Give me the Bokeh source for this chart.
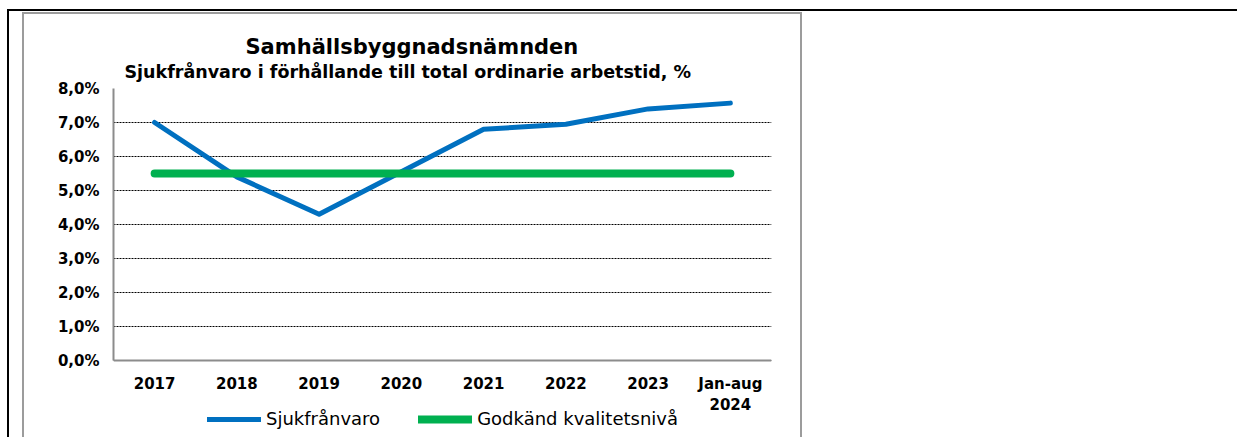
from bokeh.plotting import figure
from bokeh.models import Range1d, FixedTicker, Title, Legend, LegendItem
from bokeh.embed import file_html
from bokeh.resources import INLINE

# ---- data ----
categories = ["2017", "2018", "2019", "2020", "2021", "2022", "2023", "Jan-aug\n2024"]
sjukfranvaro = [7.0, 5.4, 4.3, 5.55, 6.8, 6.95, 7.4, 7.57]
godkand_niva = [5.5, 5.5, 5.5, 5.5, 5.5, 5.5, 5.5, 5.5]
y_ticks = [0, 1, 2, 3, 4, 5, 6, 7, 8]
y_tick_labels = ["0,0%", "1,0%", "2,0%", "3,0%", "4,0%", "5,0%", "6,0%", "7,0%", "8,0%"]
series_names = ["Sjukfrånvaro", "Godkänd kvalitetsnivå"]
title_main = "Samhällsbyggnadsnämnden"
title_sub = "Sjukfrånvaro  i förhållande till total ordinarie arbetstid, %"

FONT = "DejaVu Sans"
PX_PER_UNIT = 34.0          # 272 px frame for 0..8 %
BELOW_PX = 77               # room under the 0-line for labels and legend

p = figure(x_range=categories,
           y_range=Range1d(-BELOW_PX / PX_PER_UNIT, 8),
           frame_width=658, frame_height=272 + BELOW_PX,
           min_border_left=113, min_border_right=466,
           min_border_top=88, min_border_bottom=0,
           output_backend="svg", toolbar_location=None, tools="")
p.outline_line_color = None
p.background_fill_color = "white"
p.border_fill_color = None

# page frames (decoration only)
p.styles = {
    "background-color": "white",
    "background-image": ", ".join(["linear-gradient(#000,#000)"] * 2 +
                                  ["linear-gradient(#9c9c9c,#9c9c9c)"] * 3),
    "background-position": "7px 9px, 7px 9px, 22px 12px, 22px 12px, 800px 12px",
    "background-size": "1230px 2px, 2px 428px, 780px 2px, 2px 425px, 2px 425px",
    "background-repeat": "no-repeat",
}

# grid
p.xgrid.grid_line_color = None
p.ygrid.grid_line_color = "black"
p.ygrid.grid_line_dash = "2 1"
p.ygrid.grid_line_width = 1
p.ygrid.ticker = FixedTicker(ticks=y_ticks)

# axes
p.yaxis.ticker = FixedTicker(ticks=y_ticks)
p.yaxis.major_label_overrides = {t: l for t, l in zip(y_ticks, y_tick_labels)}
p.yaxis.bounds = (0, 8)
p.xaxis.fixed_location = 0
for ax in (p.xaxis[0], p.yaxis[0]):
    ax.axis_line_color = "#8c8c8c"
    ax.axis_line_width = 2
    ax.major_tick_line_color = None
    ax.minor_tick_line_color = None
    ax.major_tick_out = 0
    ax.major_tick_in = 0
    ax.major_label_text_font = FONT
    ax.major_label_text_font_style = "bold"
    ax.major_label_text_font_size = "15px"
    ax.major_label_text_color = "black"
p.yaxis.major_label_standoff = 14
p.xaxis.major_label_standoff = 14

# lines
r1 = p.line(categories, sjukfranvaro, line_color="#0070C0", line_width=5,
            line_cap="round", line_join="round")
r2 = p.line(categories, godkand_niva, line_color="#00B050", line_width=8,
            line_cap="round")

legend = Legend(items=[LegendItem(label=series_names[0], renderers=[r1]),
                       LegendItem(label=series_names[1], renderers=[r2])],
                orientation="horizontal", location=(94, 8))
legend.label_text_font = FONT
legend.label_text_font_size = "18px"
legend.label_text_color = "black"
legend.label_height = 16
legend.glyph_height = 16
legend.glyph_width = 54
legend.label_standoff = 5
legend.spacing = 38
legend.padding = 0
legend.margin = 0
legend.border_line_color = None
legend.background_fill_alpha = 0
p.add_layout(legend, "center")

# titles
p.add_layout(Title(text=title_sub, align="left", offset=11, standoff=14,
                   text_font=FONT, text_font_style="bold", text_font_size="17.5px",
                   text_color="black"), "above")
p.add_layout(Title(text=title_main, align="left", offset=132, standoff=-12,
                   text_font=FONT, text_font_style="bold", text_font_size="21px",
                   text_color="black"), "above")

open("out.html", "w").write(file_html(p, INLINE))
